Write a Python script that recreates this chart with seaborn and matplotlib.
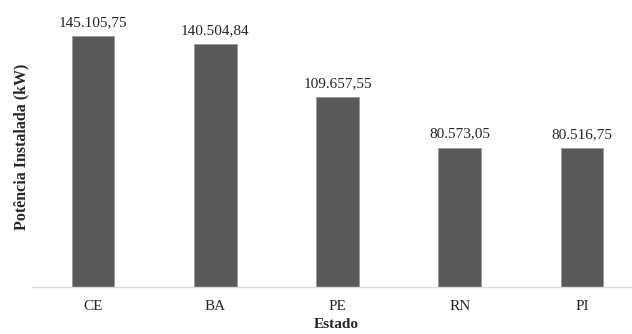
import matplotlib
matplotlib.use("Agg")
import matplotlib.pyplot as plt
import seaborn as sns
import pandas as pd

estados = ["CE", "BA", "PE", "RN", "PI"]
potencia_kw = [145105.75, 140504.84, 109657.55, 80573.05, 80516.75]
rotulos = ["145.105,75", "140.504,84", "109.657,55", "80.573,05", "80.516,75"]

sns.set_theme(style="white")
plt.rcParams["font.family"] = ["Liberation Serif", "DejaVu Serif"]

df = pd.DataFrame({"Estado": estados, "Potencia": potencia_kw})

fig = plt.figure(figsize=(6.32, 3.34), dpi=100)
ax = fig.add_axes([32 / 632, (334 - 287) / 334, 600 / 632, 287 / 334])

sns.barplot(data=df, x="Estado", y="Potencia", color="#595959", saturation=1,
            width=0.35, edgecolor="#9a9a9a", linewidth=0.6, ax=ax)

for i, (v, txt) in enumerate(zip(potencia_kw, rotulos)):
    ax.annotate(txt, (i, v), xytext=(0, 5), textcoords="offset points",
                ha="center", va="bottom", fontsize=11, color="#262626")

ax.set_xlim(-0.5, 4.41)
ax.set_ylim(0, 165900)
ax.set_yticks([])
ax.tick_params(axis="x", length=0, pad=9, labelsize=11, labelcolor="#262626")
for s in ["top", "right", "left"]:
    ax.spines[s].set_visible(False)
ax.spines["bottom"].set_color("#d9d9d9")
ax.spines["bottom"].set_linewidth(1.0)

ax.set_xlabel("")
ax.set_ylabel("")
fig.text(336 / 632, 1 - 325 / 334, "Estado", fontsize=11, fontweight="bold",
         ha="center", va="center")
fig.text(21 / 632, 1 - 147 / 334, "Potência Instalada (kW)", rotation=90,
         fontsize=11.5, fontweight="bold", ha="center", va="center")

fig.savefig("out.png", dpi=100)
